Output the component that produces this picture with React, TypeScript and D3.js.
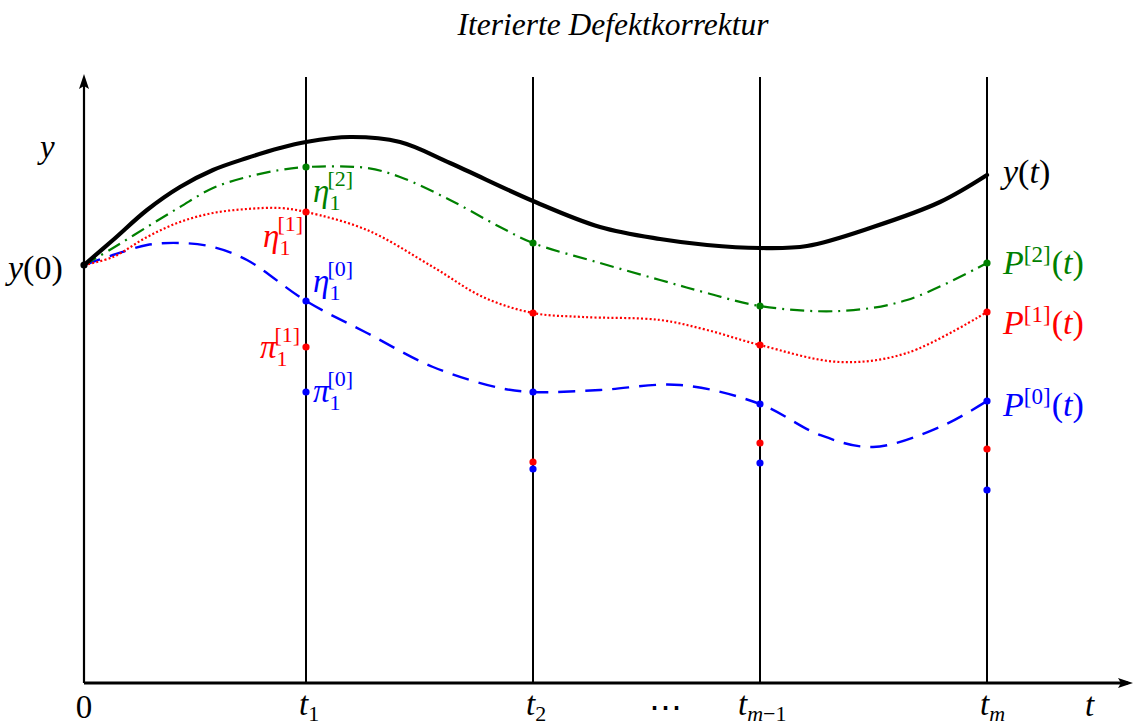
import * as d3 from 'd3'

// values, x: 100px per unit from the y axis, y: 100px per unit from the t axis
const nodes = [0, 2.22, 4.49, 6.76, 9.03]

const exact: [number, number][] = [
    [0, 4.18], [0.29, 4.43], [0.63, 4.73], [0.96, 4.96], [1.29, 5.13], [1.63, 5.25],
    [1.96, 5.35], [2.22, 5.41], [2.66, 5.46], [3.16, 5.41], [3.66, 5.2], [4.49, 4.82],
    [5.16, 4.56], [5.76, 4.44], [6.23, 4.38], [6.76, 4.35], [7.23, 4.37], [7.89, 4.56],
    [8.56, 4.81], [9.03, 5.08]
]
const iter2: [number, number][] = [
    [0, 4.18], [0.29, 4.35], [0.63, 4.56], [0.96, 4.76], [1.29, 4.95], [1.63, 5.06],
    [1.96, 5.13], [2.22, 5.16], [2.83, 5.15], [3.16, 5.06], [3.66, 4.83], [4.16, 4.56],
    [4.49, 4.4], [5.16, 4.2], [5.76, 4.03], [6.23, 3.9], [6.76, 3.77], [7.56, 3.72],
    [8.23, 3.83], [9.03, 4.2]
]
const iter1: [number, number][] = [
    [0, 4.18], [0.29, 4.26], [0.63, 4.46], [0.96, 4.61], [1.29, 4.7], [1.63, 4.74],
    [1.96, 4.75], [2.22, 4.71], [2.83, 4.53], [3.49, 4.16], [3.99, 3.86], [4.49, 3.7],
    [4.99, 3.66], [5.76, 3.63], [6.23, 3.53], [6.76, 3.38], [7.56, 3.21], [8.23, 3.3],
    [9.03, 3.71]
]
const iter0: [number, number][] = [
    [0, 4.18], [0.29, 4.28], [0.63, 4.38], [0.96, 4.4], [1.29, 4.36], [1.63, 4.23],
    [2.22, 3.82], [2.83, 3.5], [3.49, 3.16], [4.16, 2.95], [4.49, 2.91], [5.16, 2.93],
    [5.96, 2.98], [6.76, 2.79], [7.36, 2.48], [7.89, 2.36], [8.56, 2.56], [9.03, 2.82]
]

// node values of each iterate, t1..tm
const eta2 = [5.16, 4.4, 3.77, 4.2]
const eta1 = [4.71, 3.7, 3.38, 3.71]
const eta0 = [3.82, 2.91, 2.79, 2.82]
const pi1 = [3.36, 2.21, 2.4, 2.34]
const pi0 = [2.91, 2.14, 2.2, 1.93]

const tickSubs = ['1', '2', 'm−1', 'm']

const GREEN = '#008000'
const RED = '#ff0000'
const BLUE = '#0000ff'

const W = 1134
const H = 728
const x = d3.scaleLinear().domain([0, 10.5]).range([84, 1134])
const y = d3.scaleLinear().domain([0, 6.08]).range([683, 75])

const line = d3
    .line<[number, number]>()
    .x(d => x(d[0]))
    .y(d => y(d[1]))
    .curve(d3.curveCatmullRom.alpha(0.5))

const MATH = '"Liberation Serif", "DejaVu Serif", serif'
const FS = 33
const SS = 22

// letters in subscripts are italic, digits and signs upright
const subParts = (s: string) =>
    s.split(/([a-z]+)/).filter(Boolean).map((p, i) => (
        <tspan key={i} fontStyle={/[a-z]/.test(p) ? 'italic' : 'normal'}>{p}</tspan>
    ))

// base glyph with subscript and (stacked) superscript, all in one text
const Sym = ({ px, py, base, sub, sup = '', color = '#000', size = FS, ssize = SS, drop = 0.24 }) => {
    const subW = sub.length * ssize * 0.5
    return (
        <text x={px} y={py} fill={color} fontFamily={MATH} fontSize={size}>
            <tspan fontStyle="italic">{base}</tspan>
            <tspan fontSize={ssize} dy={size * drop}>{subParts(sub)}</tspan>
            {sup && (
                <tspan fontSize={ssize} dx={-subW - 2} dy={-size * 0.72}>{sup}</tspan>
            )}
        </text>
    )
}

const PLabel = ({ px, py, n, color }) => (
    <text x={px} y={py} fill={color} fontFamily={MATH} fontSize={FS + 1}>
        <tspan fontStyle="italic">P</tspan>
        <tspan fontSize={SS + 1} dy={-12}>[{n}]</tspan>
        <tspan dy={12} dx={1}>(</tspan>
        <tspan fontStyle="italic">t</tspan>
        <tspan>)</tspan>
    </text>
)

const Dots = ({ vals, color }) => (
    <g fill={color}>
        {vals.map((v, i) => (
            <circle key={i} cx={x(nodes[i + 1])} cy={y(v)} r={3.6} />
        ))}
    </g>
)

export default function App() {
    const top = y.domain()[1]
    return (
        <svg width={W} height={H} style={{ position: 'absolute', left: 0, top: 0 }}>
            <rect width={W} height={H} fill="#fff" />
            <text x={613} y={35} textAnchor="middle" fontFamily='"Liberation Serif", serif' fontStyle="italic" fontSize={31.5}>
                Iterierte Defektkorrektur
            </text>

            {/* verticals at the nodes */}
            {nodes.slice(1).map((n, i) => (
                <line key={i} x1={x(n)} x2={x(n)} y1={y(0)} y2={y(top - 0.02)} stroke="#000" strokeWidth={2} />
            ))}

            {/* axes */}
            <line x1={x(0)} x2={x(0)} y1={y(0)} y2={y(top) + 6} stroke="#000" strokeWidth={2.2} />
            <path d={`M${x(0)},${y(top) - 1} l-5,15 l5,-3 l5,3 z`} fill="#000" />
            <line x1={x(0)} x2={x(10.5) - 6} y1={y(0)} y2={y(0)} stroke="#000" strokeWidth={3} />
            <path d={`M${x(10.5) - 1},${y(0)} l-15,-5 l3,5 l-3,5 z`} fill="#000" />

            {/* curves */}
            <path d={line(iter0)} fill="none" stroke={BLUE} strokeWidth={2.4} strokeDasharray="17 10" />
            <path d={line(iter1)} fill="none" stroke={RED} strokeWidth={2.2} strokeDasharray="2 2.2" />
            <path d={line(iter2)} fill="none" stroke={GREEN} strokeWidth={2.2} strokeDasharray="14 6 2 6" />
            <path d={line(exact)} fill="none" stroke="#000" strokeWidth={4.2} strokeLinecap="round" />

            <circle cx={x(0)} cy={y(exact[0][1])} r={3.6} fill="#000" />
            <Dots vals={eta2} color={GREEN} />
            <Dots vals={eta1} color={RED} />
            <Dots vals={eta0} color={BLUE} />
            <Dots vals={pi1} color={RED} />
            <Dots vals={pi0} color={BLUE} />

            {/* labels */}
            <text x={40} y={158} fontFamily={MATH} fontStyle="italic" fontSize={FS}>y</text>
            <text x={8} y={279} fontFamily={MATH} fontSize={FS + 1}>
                <tspan fontStyle="italic">y</tspan>(0)
            </text>
            <text x={1003} y={183} fontFamily={MATH} fontSize={FS + 1}>
                <tspan fontStyle="italic">y</tspan>(<tspan fontStyle="italic">t</tspan>)
            </text>
            <PLabel px={1003} py={274} n={2} color={GREEN} />
            <PLabel px={1003} py={334} n={1} color={RED} />
            <PLabel px={1003} py={416} n={0} color={BLUE} />

            <Sym px={313} py={202} base="η" sub="1" sup="[2]" color={GREEN} />
            <Sym px={263} py={247} base="η" sub="1" sup="[1]" color={RED} />
            <Sym px={313} py={292} base="η" sub="1" sup="[0]" color={BLUE} />
            <Sym px={260} py={358} base="π" sub="1" sup="[1]" color={RED} />
            <Sym px={313} py={402} base="π" sub="1" sup="[0]" color={BLUE} />

            {/* t axis labels */}
            <text x={x(0)} y={718} textAnchor="middle" fontFamily={MATH} fontSize={FS}>0</text>
            {nodes.slice(1).map((n, i) => (
                <Sym key={i} px={x(n) - (i === 2 ? 22 : 7)} py={715} base="t" sub={tickSubs[i]} drop={0.17} />
            ))}
            <text x={665} y={719} textAnchor="middle" fontFamily={MATH} fontSize={FS}>⋯</text>
            <text x={1085} y={716} fontFamily={MATH} fontStyle="italic" fontSize={FS}>t</text>
        </svg>
    )
}
